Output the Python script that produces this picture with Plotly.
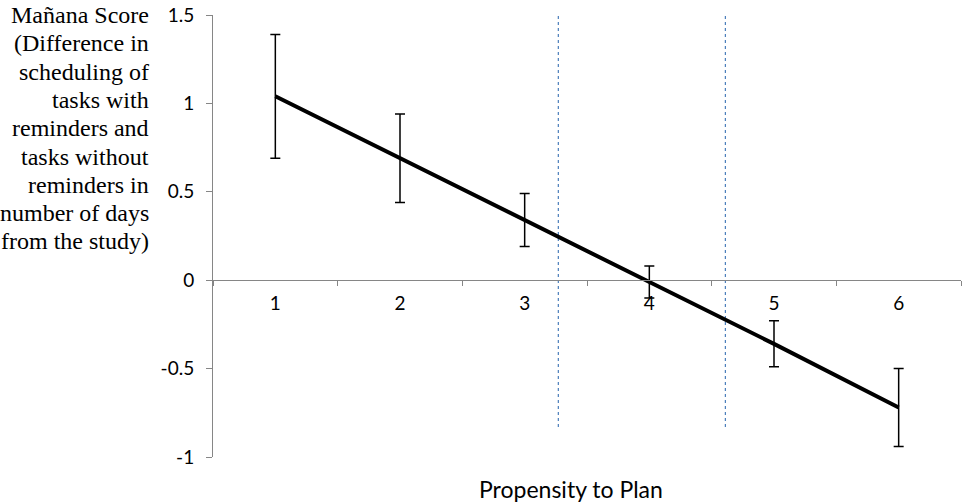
import plotly.graph_objects as go

# ---- data ----
propensity = [1, 2, 3, 4, 5, 6]
manana_score = [1.04, 0.69, 0.34, -0.01, -0.36, -0.72]
error_half = [0.35, 0.25, 0.15, 0.09, 0.13, 0.22]
jn_bounds = [3.27, 4.61]          # dotted vertical boundary lines (x)
jn_y_span = [-0.83, 1.5]          # vertical extent of the dotted lines
category_edges = [0.5, 1.5, 2.5, 3.5, 4.5, 5.5, 6.5]
y_tickvals = [-1, -0.5, 0, 0.5, 1, 1.5]
y_ticktext = ["-1", "-0.5", "0", "0.5", "1", "1.5"]
x_ticktext = ["1", "2", "3", "4", "5", "6"]
y_title_lines = ["Mañana Score", "(Difference in", "scheduling of", "tasks with",
                 "reminders and", "tasks without", "reminders in",
                 "number of days", "from the study)"]
x_title = "Propensity to Plan"

fig = go.Figure()

for xb in jn_bounds:
    fig.add_trace(go.Scatter(
        x=[xb, xb], y=jn_y_span, mode="lines",
        line=dict(color="#4a7ebb", width=1.2, dash="dot"),
        hoverinfo="skip", showlegend=False))

fig.add_trace(go.Scatter(
    x=propensity, y=manana_score, mode="lines",
    line=dict(color="black", width=4),
    error_y=dict(type="data", array=error_half, visible=True,
                 color="black", thickness=1.5, width=5),
    showlegend=False))

axis_color = "#868686"
sans = "Lato, Noto Sans, sans-serif"

fig.update_layout(
    width=962, height=504,
    margin=dict(l=213, r=1, t=15, b=47, autoexpand=False),
    paper_bgcolor="white", plot_bgcolor="white",
    xaxis=dict(
        range=[0.5, 6.5], anchor="free", position=0.4, automargin=False,
        showgrid=False, zeroline=False,
        showline=True, linecolor=axis_color, linewidth=1,
        tickvals=propensity, ticktext=x_ticktext, ticks="",
        tickfont=dict(family=sans, size=19, color="black"),
        ticklabelstandoff=6,
        minor=dict(tickvals=category_edges, ticks="outside", ticklen=5,
                   tickcolor=axis_color, tickwidth=1, showgrid=False),
    ),
    yaxis=dict(
        range=[-1, 1.5], domain=[0, 1], automargin=False,
        showgrid=False, zeroline=False,
        showline=True, linecolor=axis_color, linewidth=1,
        tickvals=y_tickvals, ticktext=y_ticktext,
        ticks="outside", ticklen=6, tickcolor=axis_color,
        tickfont=dict(family=sans, size=19, color="black"),
        ticklabelstandoff=8,
    ),
)

for i, line in enumerate(y_title_lines):
    fig.add_annotation(
        text=line, xref="paper", yref="paper",
        x=-0.0829, y=1, xanchor="right", yanchor="middle",
        yshift=-28.3 * i, showarrow=False, align="right",
        font=dict(family="Liberation Serif, Times New Roman, serif", size=24, color="black"))

fig.add_annotation(
    text=x_title, xref="paper", yref="paper",
    x=0.4786, y=-0.0724, xanchor="center", yanchor="middle",
    showarrow=False, font=dict(family=sans, size=23, color="black"))

fig.write_html("out.html", config={"displayModeBar": False},
               post_script="document.body.style.margin='0';document.body.style.overflow='hidden';")
